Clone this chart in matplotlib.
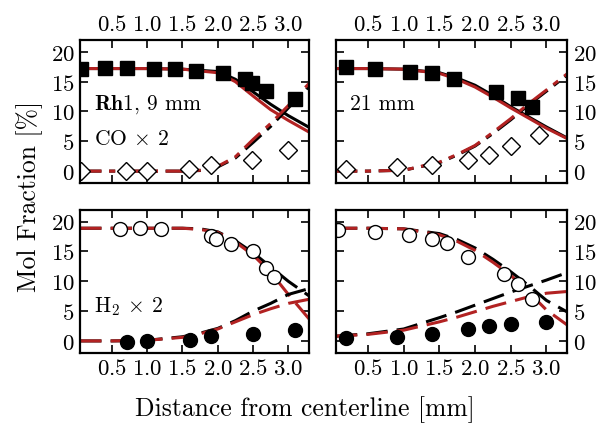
#!/usr/bin/env python3
"""
Radial mol fraction profiles (CO, CO2, H2, H2O) at two heights, measured vs. two models
"""

import matplotlib
matplotlib.use("Agg")
import matplotlib.pyplot as plt

plt.rcParams["font.family"] = "serif"
plt.rcParams["font.serif"] = ["cmr10"]
plt.rcParams["mathtext.fontset"] = "cm"
plt.rcParams["axes.formatter.use_mathtext"] = True
plt.rcParams["axes.unicode_minus"] = False

# --- Data ---
# model curves share the same radial grid [mm]
x_model = [0.05, 0.5, 1.0, 1.5, 1.75, 2.0, 2.25, 2.5, 2.75, 3.0, 3.3]

# 9 mm, CO (solid) and CO2 x2 (dash-dot)
co_9_black = [17.2, 17.2, 17.2, 17.1, 16.9, 16.7, 15.4, 13.3, 11.2, 9.3, 7.3]
co_9_red = [17.2, 17.2, 17.2, 17.1, 16.8, 16.5, 15.0, 12.6, 10.3, 8.5, 6.5]
co2_9_black = [0.0, 0.0, 0.0, 0.0, 0.1, 0.7, 2.2, 4.8, 7.5, 10.6, 14.3]
co2_9_red = [0.0, 0.0, 0.0, 0.0, 0.15, 0.8, 2.4, 5.3, 8.0, 11.0, 14.8]

# 21 mm
co_21_black = [17.2, 17.2, 17.1, 16.5, 15.6, 14.4, 12.7, 10.8, 9.1, 7.4, 5.5]
co_21_red = [17.2, 17.2, 17.1, 16.4, 15.4, 14.1, 12.4, 10.6, 8.9, 7.2, 5.4]
co2_21_black = [0.0, 0.0, 0.15, 1.4, 2.7, 4.2, 6.3, 8.6, 11.1, 13.4, 16.2]
co2_21_red = [0.0, 0.0, 0.15, 1.5, 2.8, 4.3, 6.5, 8.8, 11.3, 13.6, 16.4]

# 9 mm, H2 x2 (open) and H2O (filled), both dashed
h2_9_black = [18.9, 18.9, 18.9, 18.9, 18.8, 18.3, 16.8, 14.8, 12.4, 10.0, 7.5]
h2_9_red = [18.9, 18.9, 18.9, 18.9, 18.7, 18.2, 16.6, 14.4, 11.5, 7.8, 3.6]
h2o_9_black = [0.0, 0.0, 0.1, 0.7, 1.3, 2.1, 3.4, 5.0, 6.3, 7.8, 8.8]
h2o_9_red = [0.0, 0.0, 0.1, 0.6, 1.2, 2.0, 3.2, 4.4, 5.4, 6.3, 7.0]

# 21 mm
h2_21_black = [18.9, 18.9, 18.8, 18.0, 17.0, 15.6, 13.7, 11.6, 9.3, 6.8, 4.8]
h2_21_red = [18.9, 18.9, 18.8, 17.8, 16.7, 15.2, 13.2, 11.0, 8.2, 5.2, 2.6]
h2o_21_black = [0.8, 1.2, 2.0, 3.9, 4.9, 6.0, 7.1, 8.2, 9.2, 10.2, 11.5]
h2o_21_red = [0.8, 1.1, 1.8, 3.2, 4.0, 4.9, 5.8, 6.6, 7.4, 8.0, 8.3]

# measurements
co_9_x = [0.06, 0.41, 0.71, 1.10, 1.39, 1.69, 2.07, 2.38, 2.49, 2.69, 3.10]
co_9_y = [17.2, 17.3, 17.3, 17.2, 17.1, 16.8, 16.5, 15.5, 14.8, 13.5, 12.1]
co2_9_x = [0.06, 0.70, 1.00, 1.59, 1.90, 2.49, 2.99]
co2_9_y = [0.1, 0.0, 0.0, 0.4, 0.95, 1.8, 3.6]

co_21_x = [0.19, 0.60, 1.09, 1.40, 1.70, 2.29, 2.60, 2.80]
co_21_y = [17.5, 17.2, 16.6, 16.4, 15.5, 13.2, 12.3, 10.8]
co2_21_x = [0.19, 0.90, 1.40, 1.90, 2.20, 2.50, 2.90]
co2_21_y = [0.4, 0.7, 1.0, 1.8, 2.7, 4.2, 6.1]

h2_9_x = [0.61, 0.90, 1.20, 1.91, 1.98, 2.19, 2.50, 2.68, 2.80]
h2_9_y = [18.8, 19.0, 18.8, 17.6, 17.1, 16.2, 15.0, 12.2, 10.8]
h2o_9_x = [0.71, 1.00, 1.60, 1.90, 2.50, 3.10]
h2o_9_y = [-0.2, 0.0, 0.2, 0.8, 1.1, 1.9]

h2_21_x = [0.08, 0.60, 1.08, 1.40, 1.60, 1.90, 2.40, 2.60, 2.80]
h2_21_y = [18.6, 18.3, 17.8, 17.1, 16.4, 14.1, 11.3, 9.5, 7.1]
h2o_21_x = [0.19, 0.90, 1.40, 1.90, 2.20, 2.50, 3.00]
h2o_21_y = [0.5, 0.7, 1.2, 2.0, 2.5, 2.9, 3.2]

RED = "#b22222"
dashdot = (0, (7, 2.5, 2, 2.5))
dashed = (0, (7, 3))

# --- Figure ---
fig = plt.figure(figsize=(6.02, 4.31), dpi=100)
ax_tl = fig.add_axes([0.133, 0.573, 0.380, 0.332])
ax_tr = fig.add_axes([0.558, 0.573, 0.384, 0.332])
ax_bl = fig.add_axes([0.133, 0.179, 0.380, 0.332])
ax_br = fig.add_axes([0.558, 0.179, 0.384, 0.332])

style2 = {"-": dashdot, dashed: dashed}


def draw_panel(ax, ya_b, ya_r, yb_b, yb_r, style, xa, ya, xb, yb, ma, mb):
    ax.plot(x_model, ya_b, color="black", lw=2.2, linestyle=style)
    ax.plot(x_model, ya_r, color=RED, lw=2.2, linestyle=style)
    ax.plot(x_model, yb_b, color="black", lw=2.2, linestyle=style2[style])
    ax.plot(x_model, yb_r, color=RED, lw=2.2, linestyle=style2[style])
    ax.plot(xa, ya, linestyle="none", **ma)
    ax.plot(xb, yb, linestyle="none", **mb)


filled_sq = dict(marker="s", ms=9.5, mfc="black", mec="black")
open_dia = dict(marker="D", ms=9, mfc="white", mec="black", mew=1.0)
open_circ = dict(marker="o", ms=10, mfc="white", mec="black", mew=1.0)
filled_circ = dict(marker="o", ms=10, mfc="black", mec="black")

draw_panel(ax_tl, co_9_black, co_9_red, co2_9_black, co2_9_red, "-",
           co_9_x, co_9_y, co2_9_x, co2_9_y, filled_sq, open_dia)
draw_panel(ax_tr, co_21_black, co_21_red, co2_21_black, co2_21_red, "-",
           co_21_x, co_21_y, co2_21_x, co2_21_y, filled_sq, open_dia)
draw_panel(ax_bl, h2_9_black, h2_9_red, h2o_9_black, h2o_9_red, dashed,
           h2_9_x, h2_9_y, h2o_9_x, h2o_9_y, open_circ, filled_circ)
draw_panel(ax_br, h2_21_black, h2_21_red, h2o_21_black, h2o_21_red, dashed,
           h2_21_x, h2_21_y, h2o_21_x, h2o_21_y, open_circ, filled_circ)

for ax in (ax_tl, ax_tr, ax_bl, ax_br):
    ax.set_xlim(0.05, 3.29)
    ax.set_ylim(-2, 22)
    ax.set_xticks([0.5, 1.0, 1.5, 2.0, 2.5, 3.0])
    ax.set_yticks([0, 5, 10, 15, 20])
    ax.tick_params(direction="in", top=True, right=True, length=6, width=1.2,
                   labelsize=16.5, pad=4)
    for s in ax.spines.values():
        s.set_linewidth(1.6)

ax_tl.tick_params(labeltop=True, labelbottom=False, labelleft=True, labelright=False)
ax_tr.tick_params(labeltop=True, labelbottom=False, labelleft=False, labelright=True)
ax_bl.tick_params(labeltop=False, labelbottom=True, labelleft=True, labelright=False)
ax_br.tick_params(labeltop=False, labelbottom=True, labelleft=False, labelright=True)

# Annotations
ax_tl.text(0.06, 0.52, r"$\mathbf{Rh1}$, 9 mm", transform=ax_tl.transAxes, fontsize=15.5)
ax_tl.text(0.06, 0.27, r"CO $\times$ 2", transform=ax_tl.transAxes, fontsize=15.5)
ax_tr.text(0.06, 0.52, "21 mm", transform=ax_tr.transAxes, fontsize=15.5)
ax_bl.text(0.06, 0.29, r"H$_2$ $\times$ 2", transform=ax_bl.transAxes, fontsize=15.5)

fig.text(0.05, 0.545, "Mol Fraction [%]", rotation=90, ha="center", va="center", fontsize=18.5)
fig.text(0.507, 0.049, "Distance from centerline [mm]", ha="center", va="center", fontsize=18.5)

fig.savefig("out.png", dpi=100, facecolor="white")
